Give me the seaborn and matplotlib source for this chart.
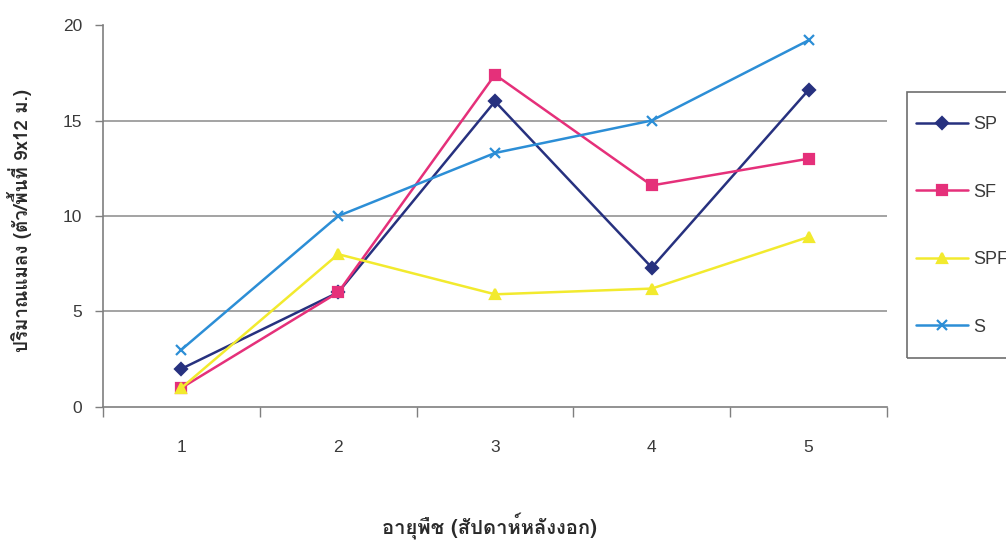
import matplotlib
matplotlib.use("Agg")
import matplotlib.pyplot as plt
from matplotlib import font_manager
from matplotlib.ft2font import FT2Font
from matplotlib.patches import Rectangle
import pandas as pd
import seaborn as sns

# Insect counts per 9x12 m plot, by crop age (weeks after emergence)
weeks = [1, 2, 3, 4, 5]
series_names = ["SP", "SF", "SPF", "S"]
sp_counts = [2, 6, 16, 7.3, 16.6]
sf_counts = [1, 6, 17.4, 11.6, 13]
spf_counts = [1, 8, 5.9, 6.2, 8.9]
s_counts = [3, 10, 13.3, 15, 19.2]
y_ticks = [0, 5, 10, 15, 20]

x_label = "อายุพืช (สัปดาห์หลังงอก)"
y_label = "ปริมาณแมลง (ตัว/พื้นที่ 9x12 ม.)"

colors = {"SP": "#27317F", "SF": "#E5307A", "SPF": "#F2EA2E", "S": "#2C8ED6"}
markers = {"SP": "D", "SF": "s", "SPF": "^", "S": "x"}
marker_sizes = {"SP": 6, "SF": 6.5, "SPF": 7, "S": 7.5}


def thai_capable_fonts():
    names = []
    for f in font_manager.fontManager.ttflist:
        try:
            cmap = FT2Font(f.fname).get_charmap()
        except Exception:
            continue
        if 0x0E01 in cmap and 0x0E21 in cmap and f.name not in names:
            names.append(f.name)
    return names


df = pd.DataFrame({
    "week": weeks * 4,
    "count": sp_counts + sf_counts + spf_counts + s_counts,
    "series": [n for n in series_names for _ in weeks],
})

sns.set_theme(style="white")
thai_fonts = thai_capable_fonts()
plt.rcParams["font.family"] = ["Liberation Sans", "DejaVu Sans"]
label_family = thai_fonts[:1] + ["DejaVu Sans"]

fig = plt.figure(figsize=(10.06, 5.46), dpi=100)
ax = fig.add_axes([0.1024, 0.2546, 0.7793, 0.6996])

for name in series_names:
    sub = df[df["series"] == name]
    sns.lineplot(
        data=sub, x="week", y="count", color=colors[name], marker=markers[name],
        linewidth=1.8, markersize=marker_sizes[name], markeredgewidth=1.6,
        markeredgecolor=colors[name], label=name, ax=ax,
    )

handles, labels = ax.get_legend_handles_labels()
if ax.get_legend() is not None:
    ax.get_legend().remove()

ax.set_xlim(0.5, 5.5)
ax.set_ylim(0, 20)

# category boundaries carry the tick marks; labels sit at category centres
ax.set_xticks([w - 0.5 for w in weeks] + [weeks[-1] + 0.5])
ax.set_xticklabels([])
ax.set_xticks(weeks, minor=True)
ax.set_xticklabels([str(w) for w in weeks], minor=True)
ax.tick_params(axis="x", which="major", direction="out", length=7, width=1, color="#7f7f7f", bottom=True)
ax.tick_params(axis="x", which="minor", length=0, pad=24, labelsize=12.5, labelcolor="#3a3a3a")

ax.set_yticks(y_ticks)
ax.set_yticklabels([str(v) for v in y_ticks])
ax.tick_params(axis="y", direction="out", length=6, width=1, color="#7f7f7f", pad=9,
               labelsize=12.5, labelcolor="#3a3a3a", left=True)

ax.yaxis.grid(True, color="#8a8a8a", linewidth=1.1)
ax.xaxis.grid(False)
ygrid = ax.get_ygridlines()
ygrid[0].set_visible(False)
ygrid[-1].set_visible(False)

for side in ("top", "right"):
    ax.spines[side].set_visible(False)
for side in ("left", "bottom"):
    ax.spines[side].set_color("#7f7f7f")
    ax.spines[side].set_linewidth(1.2)

ax.set_xlabel("")
ax.set_ylabel("")
fig.text(489 / 1006, 1 - 526 / 546, x_label, ha="center", va="center",
         fontsize=14.5, fontweight="bold", color="#2a2a2a", family=label_family)
fig.text(20 / 1006, 1 - 220 / 546, y_label, ha="center", va="center", rotation=90,
         fontsize=13.5, fontweight="bold", color="#2a2a2a", family=label_family)

# legend box runs off the right edge of the figure
fig.add_artist(Rectangle((907 / 1006, 1 - 358 / 546), 0.2, (358 - 92) / 546,
                         transform=fig.transFigure, fill=False,
                         edgecolor="#6e6e6e", linewidth=1.2))
fig.legend(handles, labels, loc="upper left", bbox_to_anchor=(916 / 1006, 1 - 116 / 546),
           frameon=False, borderpad=0, borderaxespad=0, labelspacing=2.8,
           handlelength=2.9, handletextpad=0.25, fontsize=13, labelcolor="#3a3a3a")

fig.savefig("out.png", dpi=100, facecolor="white")
